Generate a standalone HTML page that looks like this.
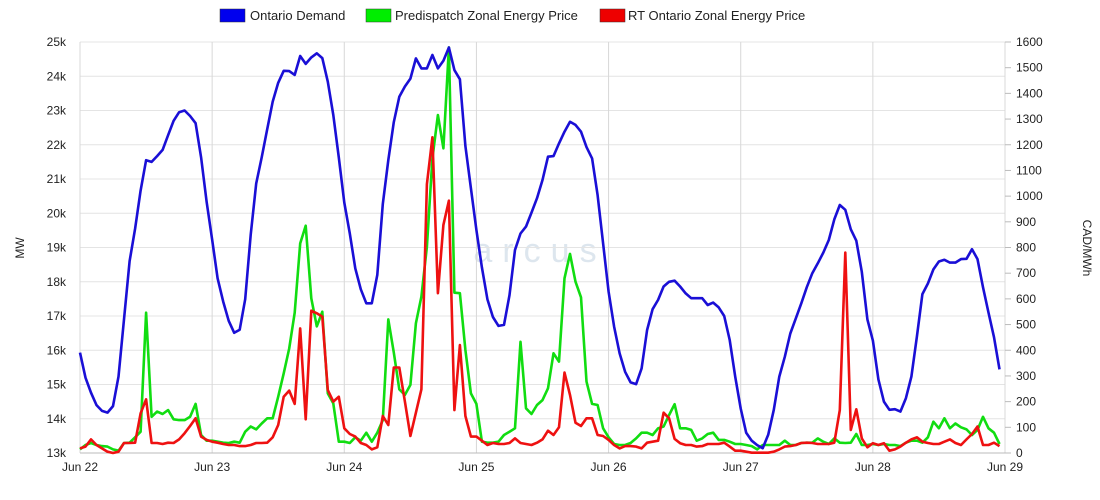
<!DOCTYPE html>
<html><head><meta charset="utf-8"><style>
body{margin:0;background:#fff;font-family:"Liberation Sans",sans-serif;}
svg{display:block}
text{font-family:"Liberation Sans",sans-serif;font-size:12px;fill:#222}
</style></head><body>
<svg id="chart" width="1100" height="500" viewBox="0 0 1100 500">
<g>
<g><rect x="220" y="9" width="25" height="13" fill="#0000ee" stroke="#333" stroke-width="0.5"/><text x="250" y="20" style="font-size:13px">Ontario Demand</text></g>
<g><rect x="366" y="9" width="25" height="13" fill="#00ee00" stroke="#333" stroke-width="0.5"/><text x="395" y="20" style="font-size:13px">Predispatch Zonal Energy Price</text></g>
<g><rect x="600" y="9" width="25" height="13" fill="#ee0000" stroke="#333" stroke-width="0.5"/><text x="628" y="20" style="font-size:13px">RT Ontario Zonal Energy Price</text></g>
</g>
<text x="540" y="262" text-anchor="middle" style="font-size:34px;fill:#dde6ee;letter-spacing:10px">arcus</text>
<text transform="translate(24,248) rotate(-90)" text-anchor="middle">MW</text>
<text transform="translate(1083,248) rotate(90)" text-anchor="middle">CAD/MWh</text>
<g id="grid"></g><g id="axes"></g><g id="series"></g>
</svg>
<script>
const days=["Jun 22","Jun 23","Jun 24","Jun 25","Jun 26","Jun 27","Jun 28","Jun 29"];
const leftTicks=[13,14,15,16,17,18,19,20,21,22,23,24,25];
const rightTicks=[0,100,200,300,400,500,600,700,800,900,1000,1100,1200,1300,1400,1500,1600];
const demand=[15.93,15.2,14.76,14.4,14.23,14.18,14.37,15.23,16.9,18.6,19.55,20.66,21.55,21.5,21.67,21.85,22.28,22.7,22.95,23.0,22.84,22.63,21.63,20.34,
19.24,18.1,17.42,16.86,16.51,16.6,17.49,19.37,20.87,21.63,22.45,23.26,23.81,24.16,24.15,24.04,24.59,24.36,24.55,24.67,24.53,23.84,22.87,21.63,
20.31,19.41,18.39,17.78,17.37,17.37,18.2,20.27,21.55,22.66,23.4,23.7,23.93,24.52,24.23,24.23,24.62,24.23,24.45,24.84,24.18,23.91,21.96,20.73,
19.51,18.42,17.49,16.97,16.71,16.74,17.61,18.93,19.41,19.61,20.02,20.44,20.97,21.65,21.67,22.04,22.38,22.67,22.58,22.38,21.93,21.6,20.53,19.12,
17.71,16.69,15.91,15.37,15.06,15.01,15.47,16.59,17.2,17.47,17.86,18.0,18.03,17.86,17.66,17.52,17.52,17.52,17.32,17.39,17.25,17.0,16.3,15.23,
14.3,13.59,13.36,13.23,13.14,13.53,14.26,15.23,15.81,16.49,16.93,17.37,17.84,18.25,18.54,18.85,19.22,19.82,20.24,20.1,19.53,19.2,18.29,16.9,
16.28,15.15,14.5,14.26,14.28,14.21,14.6,15.23,16.4,17.64,17.95,18.36,18.59,18.64,18.56,18.56,18.66,18.67,18.95,18.66,17.84,17.1,16.38,15.44];
const predispatch=[14,31,39,31,27,25,14,9,39,40,61,83,546,141,161,152,167,131,128,128,141,191,70,48,
48,44,40,39,44,40,83,103,92,115,135,135,219,310,407,546,816,885,602,493,550,232,193,44,
44,39,61,48,79,44,79,128,520,391,248,226,265,505,609,803,1147,1316,1186,1579,624,622,401,232,
191,44,40,40,44,70,83,96,433,174,152,187,206,252,388,356,680,775,667,606,278,191,187,96,
61,35,31,31,39,57,79,79,70,96,103,148,190,96,96,90,48,57,74,79,51,51,44,35,
35,31,27,14,31,31,31,31,48,31,31,39,40,40,57,44,35,57,40,39,40,74,31,31,
35,31,35,31,31,27,40,48,48,40,61,122,96,135,96,115,100,92,70,90,141,96,79,35];
const rtPrice=[18,25,53,31,18,5,0,5,39,39,40,154,209,39,39,35,40,39,53,77,105,135,64,51,
44,40,35,31,31,27,27,31,39,39,40,61,109,219,243,191,485,131,554,544,531,245,200,219,
96,74,64,39,31,14,22,144,109,333,333,200,66,157,248,1047,1229,622,888,982,167,420,144,64,
64,48,31,39,35,35,39,57,39,35,31,40,53,87,70,100,313,226,118,105,135,135,70,66,
51,31,18,27,27,25,18,40,44,48,157,135,55,38,31,31,25,27,35,35,35,40,25,9,
9,5,1,1,1,1,5,14,25,27,31,39,40,39,35,35,35,40,167,780,90,170,57,22,
38,31,38,9,14,25,40,53,61,44,39,35,35,44,53,39,31,53,74,103,31,31,40,27];
const NS="http://www.w3.org/2000/svg";
const L=80,R=1005,T=42,B=453;
const x=h=>L+(R-L)*h/168;
const yL=v=>B-(v-13)/12*(B-T);
const yR=v=>B-v/1600*(B-T);
function mk(tag,attrs,parent){const e=document.createElementNS(NS,tag);for(const k in attrs)e.setAttribute(k,attrs[k]);parent.appendChild(e);return e;}
const grid=document.getElementById('grid'),axes=document.getElementById('axes'),series=document.getElementById('series');
leftTicks.forEach(v=>{
  const g=mk('line',{x1:L,x2:R,y1:yL(v),y2:yL(v),stroke:'#e4e4e4','stroke-width':1},grid);
  
  
  const t=mk('text',{x:66,y:yL(v)+4,'text-anchor':'end'},axes);
  t.textContent=v+'k';
  
  
});
days.forEach((d,i)=>{
  const xx=x(i*24);
  const g=mk('line',{x1:xx,x2:xx,y1:T,y2:B,stroke:'#d8d8d8','stroke-width':1},grid);
  
  
  const t=mk('text',{x:xx,y:471,'text-anchor':'middle'},axes);
  t.textContent=d;
  
  
});
rightTicks.forEach(v=>{
  const m=mk('line',{x1:R,x2:R+6,y1:yR(v),y2:yR(v),stroke:'#bbb'},axes);
  
  
  const t=mk('text',{x:1016,y:yR(v)+4,'text-anchor':'start'},axes);
  t.textContent=v;
  
  
});
const ax=mk('line',{x1:L,x2:R,y1:B,y2:B,stroke:'#bbb'},axes);


function drawLine(arr,yf,color,name){
  const pts=arr.map((v,i)=>x(i).toFixed(1)+','+yf(v).toFixed(1)).join(' ');
  const p=mk('polyline',{points:pts,fill:'none',stroke:color,'stroke-width':2.6,'stroke-linejoin':'round'},series);
  
  
}
drawLine(predispatch,yR,'#11dd11','predispatch-price-line');
drawLine(rtPrice,yR,'#ee1111','rt-price-line');
drawLine(demand,yL,'#1a0fd6','ontario-demand-line');
</script>
</body></html>
